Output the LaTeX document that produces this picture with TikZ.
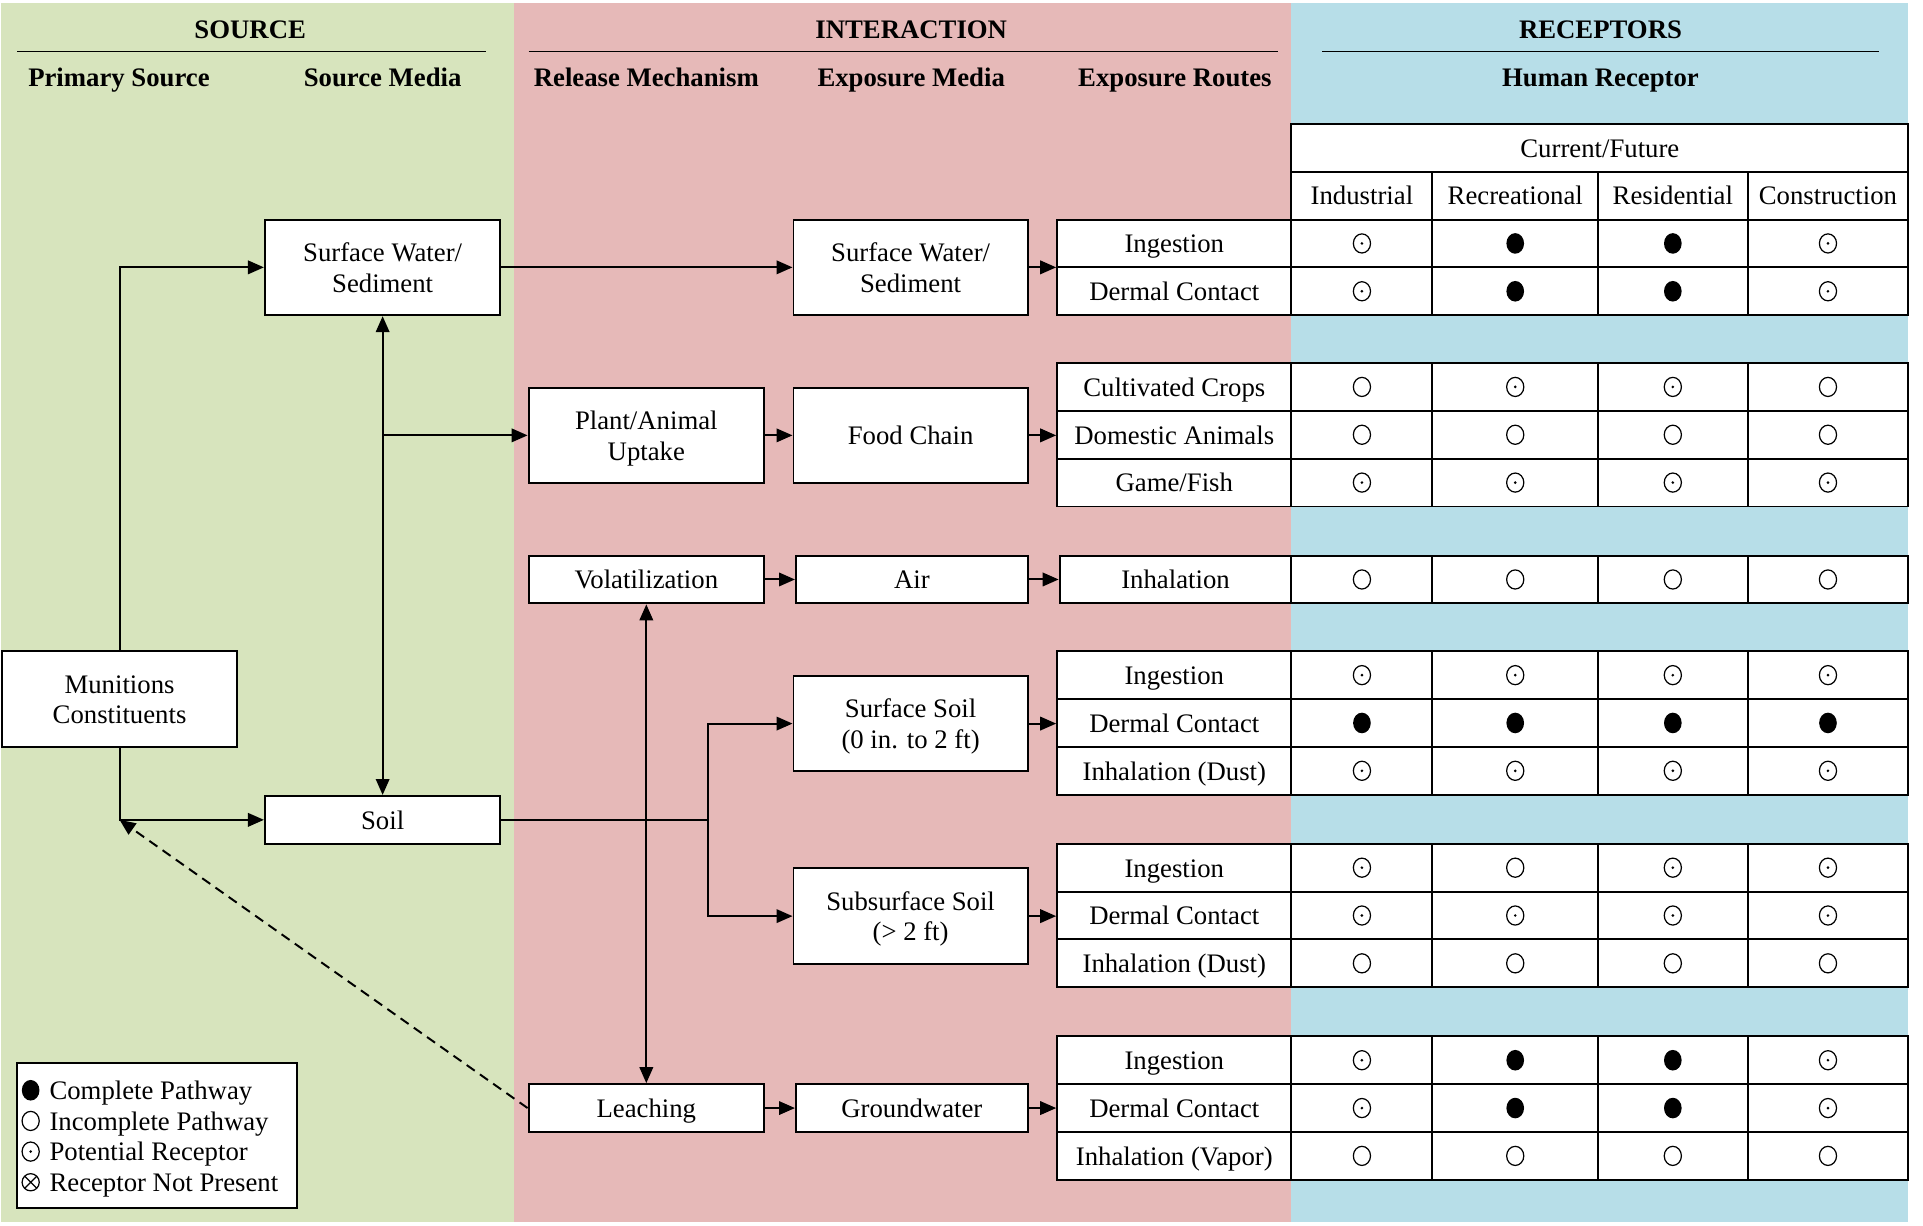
\documentclass[tikz,border=0pt]{standalone}
\usepackage{fontspec}
\setmainfont{Liberation Serif}
\usetikzlibrary{arrows.meta,calc}
\definecolor{gbg}{HTML}{D7E4BD}
\definecolor{pbg}{HTML}{E6B9B8}
\definecolor{bbg}{HTML}{B7DEE8}
\tikzset{
  symF/.pic={\fill[black] (0,0) ellipse [x radius=3.6pt, y radius=4.2pt];},
  symO/.pic={\draw[line width=0.5pt] (0,0) ellipse [x radius=3.5pt, y radius=3.9pt];},
  symP/.pic={\draw[line width=0.5pt] (0,0) ellipse [x radius=3.5pt, y radius=3.9pt];
             \fill (0,0) circle [radius=0.6pt];},
  symX/.pic={\draw[line width=0.5pt] (0,0) circle [radius=3.5pt];
             \draw[line width=0.5pt] (-2.4pt,-2.4pt) -- (2.4pt,2.4pt) (-2.4pt,2.4pt) -- (2.4pt,-2.4pt);},
}
\newcommand\myrow[9]{%
  \node[box,minimum width=#4*0.5pt,minimum height=19.5pt] (#1) at (#3,#2) {#5};
  \node[box,minimum width=57.5pt,minimum height=19.5pt] (#1-a) at (1110.5,#2) {};
  \node[box,minimum width=67.5pt,minimum height=19.5pt] (#1-b) at (1235.5,#2) {};
  \node[box,minimum width=61pt,minimum height=19.5pt] (#1-c) at (1364,#2) {};
  \node[box,minimum width=65.5pt,minimum height=19.5pt] (#1-d) at (1490.5,#2) {};
  \pic at (1110.5,#2) {sym#6};
  \pic at (1235.5,#2) {sym#7};
  \pic at (1364,#2) {sym#8};
  \pic at (1490.5,#2) {sym#9};
}
\begin{document}
\begin{tikzpicture}[x=0.5pt,y=-0.5pt,
  font=\fontsize{10.9}{12.5}\selectfont,
  box/.style={draw,line width=0.8pt,fill=white,align=center,inner sep=0pt,text height=7.6pt,text depth=0pt},
  two/.style={text height=20.1pt,text depth=0pt},
  hdr/.style={font=\fontsize{10.9}{12.5}\selectfont\bfseries,inner sep=0pt,text height=7.2pt,text depth=0pt},
  txt/.style={inner sep=0pt,text height=7.4pt,text depth=0pt},
  ln/.style={line width=0.8pt},
  arr/.style={line width=0.8pt,-{Triangle[length=6.5pt,width=5.5pt]}},
  arrb/.style={line width=0.8pt,{Triangle[length=6.5pt,width=5.5pt]}-{Triangle[length=6.5pt,width=5.5pt]}},
]
\useasboundingbox (0,0) rectangle (1568,999);
\fill[white] (0,0) rectangle (1568,999);
\fill[gbg] (1,2.5) rectangle (419,996.5);
\fill[pbg] (419,2.5) rectangle (1053,996.5);
\fill[bbg] (1053,2.5) rectangle (1556,996.5);

% headers
\node[hdr] (hsrc) at (204,24) {SOURCE};
\node[hdr] (hint) at (743,24) {INTERACTION};
\node[hdr] (hrec) at (1305,24) {RECEPTORS};
\draw[ln] (14,42) -- (396,42);
\draw[ln] (431,42) -- (1042,42);
\draw[ln] (1078,42) -- (1532,42);
\node[hdr] (hps) at (97,63.5) {Primary Source};
\node[hdr] (hsm) at (312,63.5) {Source Media};
\node[hdr] (hrm) at (527,63.5) {Release Mechanism};
\node[hdr] (hem) at (743,63.5) {Exposure Media};
\node[hdr] (her) at (958,63.5) {Exposure Routes};
\node[hdr] (hhr) at (1305,63.5) {Human Receptor};

% table header
\node[box,minimum width=251.5pt,minimum height=19.5pt] (cf) at (1304.5,120.5) {Current/Future};
\node[box,minimum width=57.5pt,minimum height=19.5pt] (ind) at (1110.5,159.5) {Industrial};
\node[box,minimum width=67.5pt,minimum height=19.5pt] (rec) at (1235.5,159.5) {Recreational};
\node[box,minimum width=61pt,minimum height=19.5pt] (res) at (1364,159.5) {Residential};
\node[box,minimum width=65.5pt,minimum height=19.5pt] (con) at (1490.5,159.5) {Construction};

% rows
\myrow{g1a}{198.5}{957.5}{191}{Ingestion}{P}{F}{F}{P}
\myrow{g1b}{237.5}{957.5}{191}{Dermal Contact}{P}{F}{F}{P}
\myrow{g2a}{315.5}{957.5}{191}{Cultivated Crops}{O}{P}{P}{O}
\myrow{g2b}{354.5}{957.5}{191}{Domestic Animals}{O}{O}{O}{O}
\myrow{g2c}{393.5}{957.5}{191}{Game/Fish}{P}{P}{P}{P}
\myrow{g3a}{472.5}{958.5}{189}{Inhalation}{O}{O}{O}{O}
\myrow{g4a}{550.5}{957.5}{191}{Ingestion}{P}{P}{P}{P}
\myrow{g4b}{589.5}{957.5}{191}{Dermal Contact}{F}{F}{F}{F}
\myrow{g4c}{628.5}{957.5}{191}{Inhalation (Dust)}{P}{P}{P}{P}
\myrow{g5a}{707.5}{957.5}{191}{Ingestion}{P}{O}{P}{P}
\myrow{g5b}{746.5}{957.5}{191}{Dermal Contact}{P}{P}{P}{P}
\myrow{g5c}{785.5}{957.5}{191}{Inhalation (Dust)}{O}{O}{O}{O}
\myrow{g6a}{864.5}{957.5}{191}{Ingestion}{P}{F}{F}{P}
\myrow{g6b}{903.5}{957.5}{191}{Dermal Contact}{P}{F}{F}{P}
\myrow{g6c}{942.5}{957.5}{191}{Inhalation (Vapor)}{O}{O}{O}{O}

% boxes
\node[box,two,minimum width=95.5pt,minimum height=39pt] (msrc) at (97.5,570) {Munitions\\Constituents};
\node[box,two,minimum width=96pt,minimum height=39pt] (swsrc) at (312,218) {Surface Water/\\Sediment};
\node[box,minimum width=96pt,minimum height=19.5pt] (soil) at (312,668.5) {Soil};
\node[box,two,minimum width=96pt,minimum height=39pt] (uptake) at (527,355) {Plant/Animal\\Uptake};
\node[box,minimum width=96pt,minimum height=19.5pt] (volat) at (527,472.5) {Volatilization};
\node[box,minimum width=96pt,minimum height=19.5pt] (leach) at (527,903.5) {Leaching};
\node[box,two,minimum width=95.5pt,minimum height=39pt] (swmed) at (742.5,218) {Surface Water/\\Sediment};
\node[box,minimum width=95.5pt,minimum height=39pt] (food) at (742.5,355) {Food Chain};
\node[box,minimum width=94.5pt,minimum height=19.5pt] (air) at (743.5,472.5) {Air};
\node[box,two,minimum width=95.5pt,minimum height=39pt] (ssoil) at (742.5,590) {Surface Soil\\(0 in. to 2 ft)};
\node[box,two,minimum width=95.5pt,minimum height=39pt] (subsoil) at (742.5,747) {Subsurface Soil\\(> 2 ft)};
\node[box,minimum width=94.5pt,minimum height=19.5pt] (gw) at (743.5,903.5) {Groundwater};

% connectors
\draw[arr] (msrc.north) |- (swsrc.west);
\draw[arr] (msrc.south) |- (soil.west);
\coordinate (corner) at (msrc.south |- soil.west);
\draw[arr,dash pattern=on 4pt off 2.6pt] (leach.west) -- (corner);
\draw[arrb] (swsrc.south) -- (soil.north);
\coordinate (bup) at (swsrc.south |- uptake.west);
\draw[arr] (bup) -- (uptake.west);
\draw[arr] (swsrc.east) -- (swmed.west);
\draw[arr] (uptake.east) -- (food.west);
\draw[arr] (volat.east) -- (air.west);
\draw[arr] (leach.east) -- (gw.west);
\draw[arrb] (volat.south) -- (leach.north);
\coordinate (sj) at (577,668.5);
\draw[ln] (soil.east) -- (sj);
\draw[arr] (sj) |- (ssoil.west);
\draw[arr] (sj) |- (subsoil.west);
\draw[arr] (swmed.east) -- (swmed.east -| g1a.west);
\draw[arr] (food.east) -- (food.east -| g2b.west);
\draw[arr] (air.east) -- (air.east -| g3a.west);
\draw[arr] (ssoil.east) -- (ssoil.east -| g4b.west);
\draw[arr] (subsoil.east) -- (subsoil.east -| g5b.west);
\draw[arr] (gw.east) -- (gw.east -| g6b.west);

% legend
\node[draw,line width=0.8pt,fill=white,minimum width=114pt,minimum height=59pt,inner sep=0pt] (legend) at (128,926) {};
\pic at (25,889) {symF};
\pic at (25,914) {symO};
\pic at (25,939) {symP};
\pic at (25,964) {symX};
\node[txt,anchor=west] (l1) at (40,889) {Complete Pathway};
\node[txt,anchor=west] (l2) at (40,914) {Incomplete Pathway};
\node[txt,anchor=west] (l3) at (40,939) {Potential Receptor};
\node[txt,anchor=west] (l4) at (40,964) {Receptor Not Present};
\end{tikzpicture}
\end{document}
